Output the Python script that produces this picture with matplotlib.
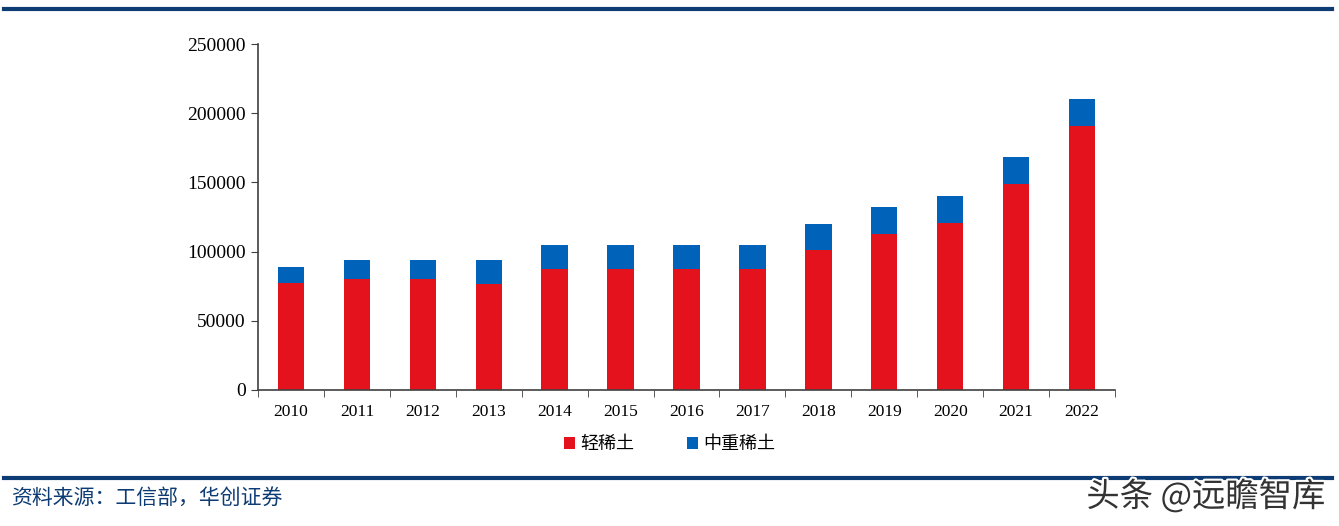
import numpy as np
import matplotlib.pyplot as plt
import matplotlib.patheffects as pe

plt.rcParams['font.family'] = ['Liberation Serif', 'Noto Sans CJK SC', 'DejaVu Sans']

# data (吨)
years = ["2010", "2011", "2012", "2013", "2014", "2015", "2016",
         "2017", "2018", "2019", "2020", "2021", "2022"]
light = [77000, 80400, 80400, 76500, 87100, 87100, 87100,
         87100, 100850, 112850, 120850, 148850, 191000]
heavy = [12200, 13400, 13400, 17300, 17900, 17900, 17900,
         17900, 19150, 19150, 19150, 19150, 19000]
yticks = [0, 50000, 100000, 150000, 200000, 250000]

red = "#e3121c"
blue = "#0062b8"
navy = "#0d3b73"

fig = plt.figure(figsize=(13.39, 5.26), dpi=100)
ax = fig.add_axes([0.1927, 0.2586, 0.64, 0.6577])

x = np.arange(len(years))
ax.bar(x, light, width=0.4, color=red, label="轻稀土")
ax.bar(x, heavy, width=0.4, bottom=light, color=blue, label="中重稀土")

ax.set_xlim(-0.5, len(years) - 0.5)
ax.set_ylim(0, 250000)
ax.set_yticks(yticks)
ax.set_yticklabels([str(v) for v in yticks])
ax.set_xticks(x)
ax.set_xticklabels(years)
ax.set_xticks(np.arange(len(years) + 1) - 0.5, minor=True)
ax.tick_params(axis='x', which='major', length=0, pad=10, labelsize=12.5)
ax.tick_params(axis='x', which='minor', length=5, direction='out', color='#404040')
ax.tick_params(axis='y', length=5, direction='out', color='#404040', labelsize=14, pad=4)
for s in ['top', 'right']:
    ax.spines[s].set_visible(False)
for s in ['left', 'bottom']:
    ax.spines[s].set_color('#404040')
    ax.spines[s].set_linewidth(1.2)

leg = fig.legend(loc='center', bbox_to_anchor=(0.5, 0.155), ncol=2, frameon=False,
                 handlelength=0.6, handleheight=0.6, columnspacing=2.9, handletextpad=0.3,
                 prop={'family': ['Noto Sans CJK SC'], 'size': 13})

# top and bottom rules
fig.add_artist(plt.Line2D([0.003, 0.995], [0.983, 0.983], color=navy, lw=3))
fig.add_artist(plt.Line2D([0.003, 0.995], [0.091, 0.091], color=navy, lw=3))

fig.text(0.008, 0.053, "资料来源：工信部，华创证券", color=navy, fontsize=15,
         family=['Noto Sans CJK SC'], va='center')
fig.text(0.99, 0.055, "头条 @远瞻智库", color='#333333', fontsize=24,
         family=['Noto Sans CJK SC'], ha='right', va='center',
         path_effects=[pe.withStroke(linewidth=3, foreground='white')])

fig.savefig("out.png", dpi=100)
